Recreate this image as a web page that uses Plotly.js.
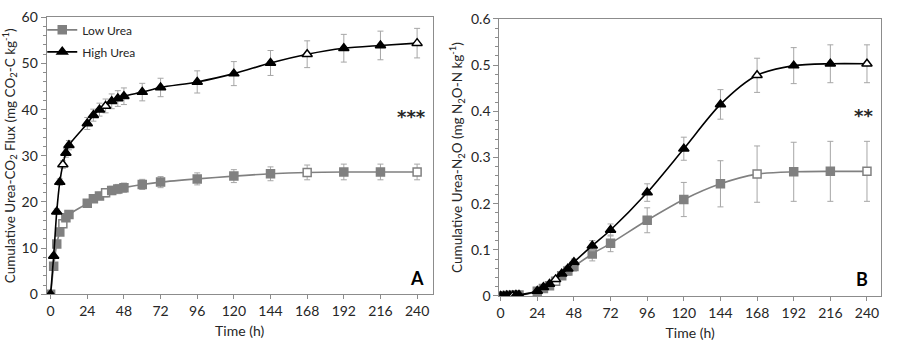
<!DOCTYPE html>
<html>
<head>
<meta charset="utf-8">
<script src="https://cdn.plot.ly/plotly-3.0.1.min.js"></script>
<style>html,body{margin:0;padding:0;background:#fff;}#chart{width:899px;height:341px;}</style>
</head>
<body>
<div id="chart"></div>
<script>
// Sampling times (h)
const time = [0,2,4,6,8,10,12,24,28,32,36,40,44,48,60,72,96,120,144,168,192,216,240];
// Panel A: cumulative urea-CO2 flux (mg CO2-C kg-1)
const co2Low     = [0,6.1,10.9,13.5,15.3,16.6,17.3,19.7,20.7,21.3,22.0,22.5,22.8,23.1,23.8,24.3,25.0,25.6,26.1,26.4,26.5,26.5,26.5];
const co2LowErr  = [0,0.3,0.4,0.5,0.5,0.6,0.6,0.7,0.8,0.8,0.9,0.9,1.0,1.0,1.1,1.2,1.3,1.4,1.5,1.6,1.7,1.7,1.7];
const co2High    = [0,8.3,17.9,24.3,28.1,30.6,32.3,37.0,38.8,40.0,40.8,41.8,42.4,42.9,43.8,44.8,46.0,47.8,50.1,52.0,53.3,53.9,54.4];
const co2HighErr = [0,0.4,0.6,0.7,0.8,0.9,1.0,1.3,1.3,1.4,1.5,1.6,1.7,1.8,1.9,2.0,2.4,2.6,2.7,2.9,3.0,3.1,3.2];
// Panel B: cumulative urea-N2O (mg N2O-N kg-1)
const n2oLow     = [0,0,0.001,0.001,0.001,0.002,0.002,0.010,0.016,0.022,0.032,0.044,0.054,0.064,0.091,0.114,0.164,0.209,0.243,0.264,0.269,0.270,0.270];
const n2oLowErr  = [0,0,0,0,0.001,0.001,0.001,0.004,0.005,0.006,0.007,0.008,0.009,0.010,0.015,0.018,0.027,0.037,0.050,0.061,0.064,0.065,0.065];
const n2oHigh    = [0,0,0.001,0.001,0.001,0.002,0.002,0.011,0.019,0.026,0.036,0.048,0.059,0.073,0.109,0.143,0.224,0.319,0.415,0.478,0.499,0.503,0.503];
const n2oHighErr = [0,0,0,0,0.001,0.001,0.001,0.003,0.004,0.004,0.005,0.005,0.006,0.007,0.011,0.013,0.019,0.025,0.032,0.037,0.039,0.041,0.041];
// Times shown with open (hollow) markers
const openTimes = [8,36,168,240];
const seriesNames = ["Low Urea","High Urea"];
const xTicks = [0,24,48,72,96,120,144,168,192,216,240];

const FONT = "Lato, 'Open Sans', sans-serif";
const GREY = "#808080", BLACK = "#000000", ERR = "#a6a6a6", AX = "#8c8c8c", TXT = "#262626";

function fills(col){ return time.map(t => openTimes.includes(t) ? "#ffffff" : col); }

function trace(y, err, name, col, sym, size, xa, ya, showLeg){
  return {
    x: time, y: y, name: name, type: "scatter", mode: "lines+markers",
    xaxis: xa, yaxis: ya, showlegend: showLeg, legendgroup: name,
    line: {color: col, width: 1.6, shape: "spline", smoothing: 0.8},
    marker: {symbol: sym, size: size, color: fills(col), line: {color: col, width: 1.5}},
    error_y: {type: "data", array: err, visible: true, color: ERR, thickness: 1, width: 3}
  };
}

const data = [
  trace(co2Low, co2LowErr, seriesNames[0], GREY, "square", 8, "x", "y", true),
  trace(co2High, co2HighErr, seriesNames[1], BLACK, "triangle-up", 9, "x", "y", true),
  trace(n2oLow, n2oLowErr, seriesNames[0], GREY, "square", 8, "x2", "y2", false),
  trace(n2oHigh, n2oHighErr, seriesNames[1], BLACK, "triangle-up", 9, "x2", "y2", false)
];

function xaxis(dom, rng){
  return {domain: dom, range: rng, tickvals: xTicks, ticks: "outside", ticklen: 4, tickcolor: AX,
    showline: true, linecolor: AX, linewidth: 1, mirror: true, showgrid: false, zeroline: false,
    tickfont: {family: FONT, size: 14, color: TXT},
    title: {text: "Time (h)", font: {family: FONT, size: 14, color: TXT}, standoff: 8}};
}
function yaxis(dom, rng, dt, mdt, title, anchor){
  return {domain: dom, range: rng, dtick: dt, tick0: 0, ticks: "outside", ticklen: 5, tickcolor: AX,
    minor: {dtick: mdt, ticks: "outside", ticklen: 3, tickcolor: AX, showgrid: false},
    showline: true, linecolor: AX, linewidth: 1, mirror: true, showgrid: false, zeroline: false,
    anchor: anchor,
    tickfont: {family: FONT, size: 14, color: TXT},
    title: {text: title, font: {family: FONT, size: 13.5, color: TXT}, standoff: 5}};
}

const layout = {
  width: 899, height: 341, margin: {l: 0, r: 0, t: 0, b: 0},
  paper_bgcolor: "#fff", plot_bgcolor: "#fff", font: {family: FONT},
  xaxis: xaxis([0.0519, 0.4813], [-2.6, 250.2]),
  yaxis: yaxis([0.1369, 0.9493], [0, 60], 10, 2, "Cumulative Urea-CO<sub>2</sub> Flux (mg CO<sub>2</sub>-C kg<sup>-1</sup>)", "x"),
  xaxis2: Object.assign(xaxis([0.5554, 0.98], [-0.9, 249.2]), {anchor: "y2"}),
  yaxis2: yaxis([0.132, 0.9443], [0, 0.6], 0.1, 0.02, "Cumulative Urea-N<sub>2</sub>O (mg N<sub>2</sub>O-N kg<sup>-1</sup>)", "x2"),
  legend: {x: 0.047, y: 0.955, xanchor: "left", yanchor: "top", bgcolor: "rgba(0,0,0,0)",
    traceorder: "grouped", tracegroupgap: 3,
    font: {family: FONT, size: 12, color: TXT}, itemwidth: 30},
  annotations: [
    {xref: "x", yref: "y", x: 236, y: 38.5, text: "<b>***</b>", showarrow: false, font: {family: "DejaVu Sans", size: 18, color: TXT}},
    {xref: "x", yref: "y", x: 240, y: 3.5, text: "<b>A</b>", showarrow: false, font: {family: FONT, size: 18, color: "#000"}},
    {xref: "x2", yref: "y2", x: 238, y: 0.39, text: "<b>**</b>", showarrow: false, font: {family: "DejaVu Sans", size: 18, color: TXT}},
    {xref: "x2", yref: "y2", x: 237, y: 0.036, text: "<b>B</b>", showarrow: false, font: {family: FONT, size: 18, color: "#000"}}
  ]
};

Plotly.newPlot("chart", data, layout, {displayModeBar: false, staticPlot: true});
</script>
</body>
</html>
